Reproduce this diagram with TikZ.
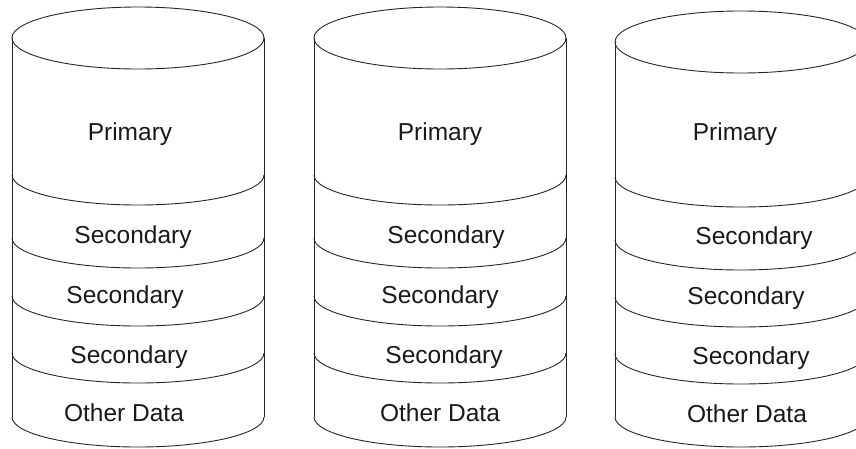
\documentclass[tikz,border=0pt]{standalone}
\usepackage{fontspec}
\setmainfont{Liberation Sans}
\begin{document}
\begin{tikzpicture}[x=1pt,y=-1pt,
  cyl/.style={line width=0.9pt,black!85},
  lbl/.style={font=\fontsize{24.5}{27}\selectfont,text=black!90,inner sep=0pt}]
\useasboundingbox (0,0) rectangle (856,448);
\begin{scope}
\clip (0,0) rectangle (856,448);
\foreach \cx/\top/\da/\db/\dc/\dd/\bot in {138/38/175/238/296/353/417, 440/38/175/238/296/353/417, 741/42/177/240/297/354/417}{
  \draw[cyl] (\cx,\top) ellipse [x radius=126, y radius=31];
  \draw[cyl] (\cx-126,\top) -- (\cx-126,\bot);
  \draw[cyl] (\cx+126,\top) -- (\cx+126,\bot);
  \foreach \yy in {\da,\db,\dc,\dd,\bot}{
    \draw[cyl] (\cx-126,\yy) arc [start angle=180, end angle=360, x radius=126, y radius=-30];
  }
}
\end{scope}
\node[lbl] (p1) at (130,134) {Primary};
\node[lbl] (s11) at (133,237) {Secondary};
\node[lbl] (s12) at (125,297) {Secondary};
\node[lbl] (s13) at (129,357) {Secondary};
\node[lbl] (o1) at (124,413) {Other Data};
\node[lbl] (p2) at (440,134) {Primary};
\node[lbl] (s21) at (446,237) {Secondary};
\node[lbl] (s22) at (440,297) {Secondary};
\node[lbl] (s23) at (444,357) {Secondary};
\node[lbl] (o2) at (440,413) {Other Data};
\node[lbl] (p3) at (735,134) {Primary};
\node[lbl] (s31) at (754,238) {Secondary};
\node[lbl] (s32) at (746,298) {Secondary};
\node[lbl] (s33) at (751,358) {Secondary};
\node[lbl] (o3) at (747,414) {Other Data};
\end{tikzpicture}
\end{document}
